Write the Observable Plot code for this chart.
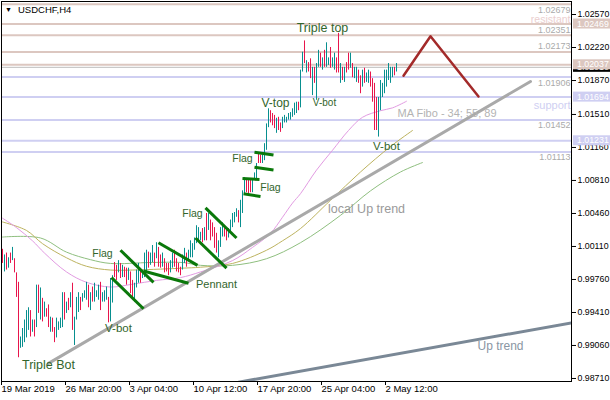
<!DOCTYPE html>
<html><head><meta charset="utf-8">
<script src="https://cdn.jsdelivr.net/npm/d3@7"></script>
<script src="https://cdn.jsdelivr.net/npm/@observablehq/plot@0.6"></script>
<style>
html,body{margin:0;padding:0;background:#fff;}
#chart{width:610px;height:400px;}
</style></head><body><div id="chart"></div>
<script>
// ---- bar data (H4 bars, index 0 = first bar) ----
const highs = [
1.0008,1.0002,1.0004,0.9999,1.0004,1.0010,0.9998,0.9983,0.9973,0.9915,
0.9924,0.9933,0.9943,0.9946,0.9943,0.9933,0.9933,0.9970,0.9970,0.9967,
0.9956,0.9952,0.9945,0.9949,0.9936,0.9935,0.9925,0.9935,0.9931,0.9935,
0.9962,0.9962,0.9952,0.9956,0.9962,0.9972,0.9936,0.9957,0.9962,0.9957,
0.9961,0.9964,0.9973,0.9970,0.9962,0.9968,0.9972,0.9964,0.9970,0.9973,
0.9962,0.9964,0.9968,0.9957,0.9977,0.9980,0.9994,0.9991,0.9996,0.9993,
0.9991,0.9989,0.9988,0.9988,0.9984,0.9975,0.9972,0.9986,0.9993,0.9986,
0.9984,1.0004,1.0007,1.0005,1.0004,1.0012,1.0004,1.0015,1.0010,1.0002,
1.0004,0.9998,0.9993,0.9993,0.9996,1.0004,1.0007,0.9998,0.9993,0.9989,
1.0002,1.0009,1.0004,1.0007,1.0017,1.0014,1.0020,1.0033,1.0031,1.0026,
1.0030,1.0031,1.0046,1.0046,1.0039,1.0036,1.0031,1.0025,1.0017,1.0031,
1.0036,1.0030,1.0028,1.0030,1.0039,1.0046,1.0047,1.0051,1.0049,1.0060,
1.0070,1.0084,1.0083,1.0081,1.0083,1.0083,1.0089,1.0099,1.0110,1.0108,
1.0110,1.0120,1.0141,1.0157,1.0155,1.0152,1.0150,1.0147,1.0148,1.0142,
1.0148,1.0150,1.0148,1.0152,1.0153,1.0157,1.0163,1.0164,1.0164,1.0198,
1.0217,1.0229,1.0208,1.0206,1.0210,1.0201,1.0201,1.0205,1.0219,1.0216,
1.0211,1.0219,1.0227,1.0211,1.0222,1.0211,1.0216,1.0211,1.0237,1.0205,
1.0201,1.0201,1.0206,1.0216,1.0216,1.0205,1.0201,1.0201,1.0198,1.0192,
1.0198,1.0200,1.0195,1.0198,1.0196,1.0189,1.0184,1.0169,1.0169,1.0187,
1.0184,1.0198,1.0198,1.0205,1.0201,1.0201,1.0201,1.0205];
const lows = [
0.9993,0.9984,0.9986,0.9988,0.9993,0.9996,0.9983,0.9957,0.9893,0.9903,
0.9904,0.9909,0.9914,0.9922,0.9915,0.9920,0.9915,0.9925,0.9940,0.9933,
0.9931,0.9936,0.9936,0.9925,0.9920,0.9920,0.9909,0.9914,0.9922,0.9924,
0.9925,0.9933,0.9940,0.9943,0.9946,0.9922,0.9906,0.9933,0.9941,0.9943,
0.9952,0.9956,0.9954,0.9946,0.9943,0.9952,0.9952,0.9957,0.9954,0.9943,
0.9952,0.9952,0.9954,0.9930,0.9931,0.9951,0.9978,0.9975,0.9983,0.9977,
0.9978,0.9978,0.9970,0.9975,0.9961,0.9956,0.9952,0.9967,0.9972,0.9972,
0.9977,0.9978,0.9984,0.9988,0.9991,0.9994,0.9989,0.9998,0.9989,0.9988,
0.9989,0.9983,0.9984,0.9980,0.9983,0.9988,0.9989,0.9984,0.9983,0.9980,
0.9986,0.9993,0.9989,0.9996,0.9999,0.9999,1.0007,1.0014,1.0017,1.0017,
1.0015,1.0017,1.0017,1.0028,1.0017,1.0021,1.0009,1.0004,0.9999,1.0010,
1.0021,1.0021,1.0017,1.0020,1.0025,1.0031,1.0036,1.0042,1.0036,1.0031,
1.0046,1.0067,1.0068,1.0067,1.0068,1.0068,1.0081,1.0083,1.0099,1.0099,
1.0099,1.0102,1.0113,1.0137,1.0142,1.0139,1.0136,1.0131,1.0134,1.0132,
1.0136,1.0142,1.0142,1.0145,1.0145,1.0148,1.0150,1.0152,1.0155,1.0158,
1.0196,1.0205,1.0195,1.0196,1.0189,1.0171,1.0184,1.0166,1.0201,1.0201,
1.0198,1.0201,1.0201,1.0203,1.0200,1.0201,1.0198,1.0195,1.0195,1.0184,
1.0187,1.0185,1.0195,1.0198,1.0200,1.0190,1.0189,1.0185,1.0184,1.0173,
1.0180,1.0184,1.0185,1.0184,1.0180,1.0164,1.0134,1.0134,1.0127,1.0155,
1.0169,1.0173,1.0180,1.0187,1.0184,1.0190,1.0192,1.0196];
const up = [
0,1,0,1,0,1,0,0,0,1, 1,1,1,1,0,1,0,1,0,1, 0,1,0,0,1,0,0,1,1,1, 1,0,1,0,1,0,1,1,1,0,
1,1,1,0,1,0,1,1,1,0, 1,1,1,0,1,1,0,0,1,0, 1,0,0,1,0,0,1,1,1,0, 1,1,1,0,1,1,0,1,0,0,
1,0,0,0,1,1,0,0,0,0, 1,1,0,1,1,1,1,1,1,1, 0,1,0,1,0,0,0,0,1,1, 1,0,0,1,1,1,1,1,0,1,
1,1,0,0,0,1,1,1,0,0, 1,1,1,1,0,0,0,1,0,0, 1,1,1,1,1,1,1,1,0,1, 1,0,1,0,0,1,0,1,1,0,
1,0,1,1,0,1,1,0,0,1, 0,1,0,0,1,0,1,1,0,0, 1,0,1,1,0,0,0,0,1,1, 1,1,1,1,1,1,0,1];

// ---- moving averages (read at bar indices) ----
const ma34Bar = [0,7,15,21,32,42,54,65,77,89,99,115,125,134,140,145,149,157,165,173,180,189,195,202];
const ma34Val = [1.0041,1.0031,1.0017,1.0004,0.9984,0.9973,0.9968,0.9971,0.9975,0.9978,0.9984,0.9996,1.0010,1.0025,1.0042,1.0057,1.0067,1.0092,1.0113,1.0134,1.0148,1.0155,1.0158,1.0165];
const ma55Bar = [0,12,20,32,42,54,65,79,90,99,115,132,140,149,164,179,194,205];
const ma55Val = [1.0037,1.0028,1.0014,0.9999,0.9990,0.9986,0.9986,0.9987,0.9988,0.9989,0.9993,1.0007,1.0017,1.0030,1.0060,1.0090,1.0117,1.0134];
const ma89Bar = [0,19,32,44,54,74,90,99,115,132,149,169,184,199,210];
const ma89Val = [1.0021,1.0020,1.0005,0.9997,0.9993,0.9994,0.9994,0.9991,0.9991,0.9998,1.0015,1.0044,1.0070,1.0090,1.0100];

// ---- levels ----
const brownLevels = [1.02679, 1.02469, 1.02351, 1.02173, 1.02037];
const blueLevels = [1.01906, 1.01694, 1.01452, 1.01231, 1.01113];
const labelsBelow = [1.02679, 1.01906, 1.01452, 1.01113];
const labelsAbove = [1.02351, 1.02173];
const lastPrice = 1.0201;

// ---- trend lines / patterns (bar index, price) ----
const localTrend = [{i:23, p:0.9887}, {i:264, p:1.0186}];
const upTrend = [{i:118, p:0.9867}, {i:284.5, p:0.9930}];
const zigzag = [{i:200.5, p:1.0192}, {i:214, p:1.0234}, {i:238, p:1.0170}];
const patternLines = [
  {i1:59, p1:1.0007, i2:75.5, p2:0.9973},
  {i1:54.5, p1:0.9978, i2:70.5, p2:0.9945},
  {i1:70.5, p1:0.9985, i2:93, p2:0.9972},
  {i1:78, p1:1.0015, i2:97.5, p2:0.9991},
  {i1:101.5, p1:1.0052, i2:117, p2:1.0020},
  {i1:96.5, p1:1.0020, i2:112, p2:0.9988},
  {i1:120, p1:1.0083, i2:128.5, p2:1.0082},
  {i1:120.5, p1:1.0067, i2:129, p2:1.0064},
  {i1:126, p1:1.0111, i2:135.5, p2:1.0108},
  {i1:126, p1:1.0095, i2:135.5, p2:1.0092}
];
const patText = ["Triple top","V-top","V-bot","V-bot","Flag","Flag","Flag","Flag","Pennant","V-bot","Triple Bot"];
const patBar  = [160, 136.5, 161, 192, 120, 134, 95, 50, 107, 58, 23];
const patVal  = [1.0243, 1.0163, 1.0163, 1.0117, 1.0104, 1.0073, 1.0046, 1.0003, 0.9971, 0.9924, 0.9885];
const patSize = [12.5, 12, 10, 11.5, 10.5, 10.5, 10.5, 10.5, 11, 11.5, 12.5];

// ---- axes ----
const yTicks = [1.02570,1.02220,1.01870,1.01510,1.01160,1.00810,1.00460,1.00110,0.99760,0.99410,0.99060,0.98710];
const tickBars = [0,32,64,96,128,160,192];
const tickLabels = ["19 Mar 2019","26 Mar 20:00","3 Apr 04:00","10 Apr 12:00","17 Apr 20:00","25 Apr 04:00","2 May 12:00"];

const bars = highs.map((h,i)=>({i, h, l: lows[i], up: up[i]}));
const mk = (b,v)=>b.map((x,k)=>({i:x, p:v[k]}));
const pats = patText.map((t,k)=>({t, i:patBar[k], p:patVal[k], s:patSize[k]}));

const BROWN="#dcc7c0", BLUE="#cfcff2", PATC="#32652c";
const FONT='"Liberation Sans", Arial, sans-serif';

const plot = Plot.plot({
  width: 610, height: 400,
  marginLeft: 1, marginRight: 39, marginTop: 1, marginBottom: 19,
  x: {domain: [-0.5, 284.5]},
  y: {domain: [0.98678, 1.02708]},
  style: {fontFamily: FONT, fontSize: "9.5px", background: "#fff", color: "#000"},
  marks: [
    Plot.ruleY(brownLevels, {stroke: BROWN, strokeWidth: 2}),
    Plot.ruleY(blueLevels, {stroke: BLUE, strokeWidth: 2}),
    Plot.ruleY([lastPrice], {stroke: "#bdbdbd", strokeWidth: 1}),
    Plot.text(labelsBelow, {y: d=>d, text: d=>d.toFixed(5), frameAnchor: "right", textAnchor: "end", dx: -1, dy: 5.5, fill: "#aaaaaa", fontSize: 9}),
    Plot.text(labelsAbove, {y: d=>d, text: d=>d.toFixed(5), frameAnchor: "right", textAnchor: "end", dx: -1, dy: -5.5, fill: "#aaaaaa", fontSize: 9}),
    Plot.text([1.02469], {y: d=>d, text: ["resistant"], frameAnchor: "right", textAnchor: "end", dx: -1, dy: -4.5, fill: "#ebcfcf", fontSize: 10.5}),
    Plot.text([1.01694], {y: d=>d, text: ["support"], frameAnchor: "right", textAnchor: "end", dx: -1, dy: 8, fill: "#cfcff2", fontSize: 11}),
    Plot.line(mk(ma89Bar, ma89Val), {x:"i", y:"p", stroke: "#8fbf7f", strokeWidth: 1, curve: "catmull-rom", clip: true}),
    Plot.line(mk(ma55Bar, ma55Val), {x:"i", y:"p", stroke: "#bdb35f", strokeWidth: 1, curve: "catmull-rom", clip: true}),
    Plot.line(mk(ma34Bar, ma34Val), {x:"i", y:"p", stroke: "#e29be2", strokeWidth: 1, curve: "catmull-rom", clip: true}),
    Plot.line(localTrend, {x:"i", y:"p", stroke: "#a9a9a9", strokeWidth: 3, clip: true}),
    Plot.line(upTrend, {x:"i", y:"p", stroke: "#7a8896", strokeWidth: 3, clip: true}),
    Plot.ruleX(bars, {x: "i", y1: "l", y2: "h", stroke: d => d.up ? "#088f8f" : "#e8154c", strokeWidth: 1}),
    Plot.link(patternLines, {x1:"i1", y1:"p1", x2:"i2", y2:"p2", stroke: "#0a780a", strokeWidth: 3}),
    Plot.line(zigzag, {x:"i", y:"p", stroke: "#a32a2a", strokeWidth: 2.5}),
    Plot.text(pats, {x:"i", y:"p", text:"t", fontSize: d=>d.s, fill: PATC}),
    Plot.text(["local Up trend"], {x: [182], y: [1.0051], fill: "#9a9a9a", fontSize: 12.5}),
    Plot.text(["Up trend"], {x: [249], y: [0.9905], fill: "#8a96a3", fontSize: 12}),
    Plot.text(["MA Fibo - 34; 55; 89"], {x: [197.5], y: [1.01525], textAnchor: "start", fill: "#b3b3b3", fontSize: 11}),
    Plot.frame({stroke: "#000"}),
    Plot.axisY({anchor: "right", ticks: yTicks, tickFormat: d => d.toFixed(5), tickSize: 4, tickPadding: 2, fontSize: 8.8, stroke: "#000", fill: "#000"}),
    Plot.axisX({ticks: tickBars, tickFormat: d => tickLabels[tickBars.indexOf(d)], tickSize: 4, tickPadding: 0, textAnchor: "start", dx: -1, stroke: "#000", fill: "#000"})
  ]
});

const svg = d3.select(plot);
const ys = plot.scale("y");
function box(v, bg, label){
  const yy = ys.apply(v);
  svg.append("rect").attr("x", 573).attr("y", yy - 5).attr("width", 37).attr("height", 10).attr("fill", bg);
  svg.append("text").attr("x", 577).attr("y", yy).attr("dy", "0.35em").attr("fill", "#fff")
     .attr("text-anchor", "start").attr("font-size", 8.8).attr("font-family", FONT).text(label);
}
box(lastPrice, "#000", lastPrice.toFixed(5));
box(1.02469, BROWN, "1.02469");
box(1.02037, BROWN, "1.02037");
box(1.01694, BLUE, "1.01694");
box(1.01231, BLUE, "1.01231");

// title
svg.append("text").attr("x", 5).attr("y", 12).attr("text-anchor", "start").attr("font-size", 7).attr("font-family", FONT).attr("fill", "#000").text("▼");
svg.append("text").attr("x", 18).attr("y", 13).attr("text-anchor", "start").attr("font-size", 9.5).attr("font-family", FONT).attr("fill", "#000").text("USDCHF,H4");

document.getElementById("chart").appendChild(plot);
</script></body></html>
